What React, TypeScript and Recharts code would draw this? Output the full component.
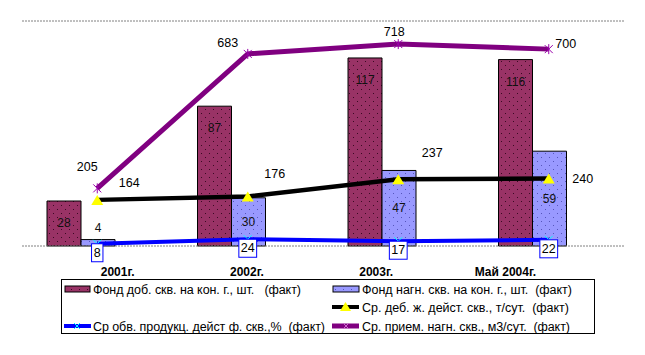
import React from 'react';
import { ComposedChart, Bar, Line, XAxis, YAxis, ReferenceLine, LabelList } from 'recharts';

const categories = ['2001г.', '2002г.', '2003г.', 'Май 2004г.'];
const fondDob = [28, 87, 117, 116];
const fondNagn = [4, 30, 47, 59];
const debit = [164, 176, 237, 240];
const obvod = [8, 24, 17, 22];
const priem = [205, 683, 718, 700];
const leftTicks = [0, 20, 40, 60, 80, 100, 120, 140];
const rightTicks = [0, 100, 200, 300, 400, 500, 600, 700, 800];

const seriesNames = {
  dob: 'Фонд доб. скв. на кон. г., шт.   (факт)',
  nagn: 'Фонд нагн. скв. на кон. г., шт.  (факт)',
  deb: 'Ср. деб. ж. дейст. скв., т/сут.  (факт)',
  obv: 'Ср обв. продукц. дейст ф. скв.,%  (факт)',
  priem: 'Ср. прием. нагн. скв., м3/сут.  (факт)',
};

const data = categories.map((c, i) => ({
  cat: c,
  dob: fondDob[i],
  nagn: fondNagn[i],
  deb: debit[i],
  obv: obvod[i],
  priem: priem[i],
}));

const FONT = '"Liberation Sans", Arial, sans-serif';

// label placement offsets relative to the point (style only)
const priemLabelOffsets = [[-10, -21], [-20, -11], [-4, -12], [17, -5]];
const debLabelOffsets = [[32, -17], [27, -23], [34, -26], [34, 0]];

const Triangle = (p: any) => {
  const { cx, cy, index } = p;
  if (cx == null || cy == null) return <g key={`t${index}`} />;
  return <polygon key={`t${index}`} points={`${cx},${cy - 5} ${cx + 6},${cy + 5} ${cx - 6},${cy + 5}`} fill="#FFFF00" />;
};
const CrossDot = (p: any) => {
  const { cx, cy, index } = p;
  if (cx == null || cy == null) return <g key={`c${index}`} />;
  return (
    <g key={`c${index}`} stroke="#00FFFF" strokeWidth={1}>
      <line x1={cx - 4} y1={cy - 4} x2={cx + 4} y2={cy + 4} />
      <line x1={cx - 4} y1={cy + 4} x2={cx + 4} y2={cy - 4} />
    </g>
  );
};
const StarDot = (p: any) => {
  const { cx, cy, index } = p;
  if (cx == null || cy == null) return <g key={`s${index}`} />;
  return (
    <g key={`s${index}`} stroke="#9900AA" strokeWidth={1}>
      <line x1={cx - 4} y1={cy - 4} x2={cx + 4} y2={cy + 4} />
      <line x1={cx - 4} y1={cy + 4} x2={cx + 4} y2={cy - 4} />
      <line x1={cx} y1={cy - 5} x2={cx} y2={cy + 5} />
    </g>
  );
};

const EmptyTick = () => <g />;

const XTick = (p: any) => {
  const { x, y, payload } = p;
  return (
    <text x={x} y={y} dy={30} textAnchor="middle" fontFamily={FONT} fontSize={12} fontWeight="bold" fill="#000">
      {payload.value}
    </text>
  );
};

const DobLabel = (p: any) => {
  const { x, y, width, value } = p;
  return (
    <text x={x + width / 2} y={y + 26} textAnchor="middle" fontFamily={FONT} fontSize={12} fill="#111">
      {value}
    </text>
  );
};
const NagnLabel = (p: any) => {
  const { x, y, width, height, value } = p;
  const small = height < 15;
  const ty = small ? y - 8 : y + height / 2 + 4;
  return (
    <text x={x + width / 2} y={ty} textAnchor="middle" fontFamily={FONT} fontSize={12} fill="#111">
      {value}
    </text>
  );
};
const makeOffsetLabel = (offs: number[][]) => (p: any) => {
  const { x, y, value, index } = p;
  const o = offs[index] || [0, 0];
  return (
    <text x={x + o[0]} y={y + o[1] + 4} textAnchor="middle" fontFamily={FONT} fontSize={12.5} fill="#000">
      {value}
    </text>
  );
};
const ObvLabel = (p: any) => {
  const { x, y, value } = p;
  const w = String(value).length * 6.4 + 5;
  const cy = y + 9;
  return (
    <g>
      <rect x={x - w / 2} y={cy - 9} width={w} height={18} fill="#FFFFFF" stroke="#0000FF" strokeWidth={1} />
      <text x={x} y={cy + 4} textAnchor="middle" fontFamily={FONT} fontSize={12.5} fill="#000">
        {value}
      </text>
    </g>
  );
};

const Patterns = () => (
  <defs>
    <pattern id="patDob" width="8" height="8" patternUnits="userSpaceOnUse">
      <rect width="8" height="8" fill="#993366" />
      <rect x="1" y="1" width="1" height="1" fill="#3a0a22" />
      <rect x="5" y="5" width="1" height="1" fill="#3a0a22" />
    </pattern>
    <pattern id="patNagn" width="8" height="8" patternUnits="userSpaceOnUse">
      <rect width="8" height="8" fill="#9999FF" />
      <rect x="1" y="1" width="1" height="1" fill="#5555bb" />
      <rect x="5" y="5" width="1" height="1" fill="#5555bb" />
    </pattern>
  </defs>
);

const LegendBox = () => {
  const t = (x: number, y: number, s: string, len: number) => (
    <text
      x={x}
      y={y}
      fontFamily={FONT}
      fontSize={12.5}
      fill="#000"
      style={{ whiteSpace: 'pre' }}
      xmlSpace="preserve"
      textLength={len}
      lengthAdjust="spacing"
    >
      {s}
    </text>
  );
  return (
    <div style={{ position: 'absolute', left: 53, top: 271, width: 534, height: 55, border: '1px solid #000', boxSizing: 'border-box', background: '#fff' }}>
      <svg width={532} height={53} style={{ display: 'block' }}>
        <Patterns />
        {/* row 1 */}
        <rect x={3} y={6} width={25} height={6} fill="url(#patDob)" stroke="#000" />
        {t(31, 14, seriesNames.dob, 208)}
        <rect x={271} y={6} width={26} height={6} fill="url(#patNagn)" stroke="#000" />
        {t(300, 14, seriesNames.nagn, 210)}
        {/* row 2 */}
        <line x1={270} y1={27} x2={297} y2={27} stroke="#000" strokeWidth={4} />
        <polygon points="283.5,22 289,31 278,31" fill="#FFFF00" />
        {t(300, 32, seriesNames.deb, 207)}
        {/* row 3 */}
        <line x1={2} y1={46} x2={29} y2={46} stroke="#0000FF" strokeWidth={4} />
        <g stroke="#00FFFF"><line x1={12} y1={43} x2={18} y2={49} /><line x1={12} y1={49} x2={18} y2={43} /></g>
        {t(31, 51, seriesNames.obv, 232)}
        <line x1={270} y1={46} x2={297} y2={46} stroke="#800080" strokeWidth={5} />
        <g stroke="#cc66cc"><line x1={281} y1={43} x2={287} y2={49} /><line x1={281} y1={49} x2={287} y2={43} /></g>
        {t(300, 51, seriesNames.priem, 208)}
      </svg>
    </div>
  );
};

export default function App() {
  return (
    <div style={{ position: 'relative', width: 629, height: 339 }}>
      <ComposedChart
        width={629}
        height={339}
        data={data}
        margin={{ top: 13, right: 13, left: 14, bottom: 71 }}
        barCategoryGap={25}
        barGap={0}
      >
        <Patterns />
        <XAxis xAxisId="m" dataKey="cat" hide />
        <XAxis
          xAxisId="lab"
          dataKey="cat"
          axisLine={false}
          tickLine={false}
          tickSize={0}
          tickMargin={0}
          height={30}
          interval={0}
          padding={{ left: 31, right: 54 }}
          tick={<XTick />}
        />
        <YAxis
          yAxisId="L"
          orientation="left"
          domain={[0, 140]}
          ticks={leftTicks}
          width={0}
          tickSize={3}
          tick={EmptyTick}
          axisLine={{ stroke: '#000' }}
          tickLine={{ stroke: '#000' }}
          interval={0}
        />
        <YAxis
          yAxisId="R"
          orientation="right"
          domain={[0, 800]}
          ticks={rightTicks}
          width={0}
          tickSize={3}
          tick={EmptyTick}
          axisLine={{ stroke: '#000' }}
          tickLine={{ stroke: '#000' }}
          interval={0}
        />
        <ReferenceLine xAxisId="m" yAxisId="L" y={140} stroke="#808080" strokeDasharray="2 1" />
        <ReferenceLine xAxisId="m" yAxisId="L" y={0} stroke="#808080" strokeDasharray="2 1" />
        <Bar xAxisId="m" yAxisId="L" dataKey="dob" name={seriesNames.dob} fill="url(#patDob)" stroke="#000" strokeWidth={1} isAnimationActive={false}>
          <LabelList dataKey="dob" content={DobLabel} />
        </Bar>
        <Bar xAxisId="m" yAxisId="L" dataKey="nagn" name={seriesNames.nagn} fill="url(#patNagn)" stroke="#000" strokeWidth={1} isAnimationActive={false}>
          <LabelList dataKey="nagn" content={NagnLabel} />
        </Bar>
        <Bar xAxisId="m" yAxisId="L" dataKey="pad" fill="none" isAnimationActive={false} />
        <Line xAxisId="m" yAxisId="R" type="linear" dataKey="obv" name={seriesNames.obv} stroke="#0000FF" strokeWidth={4} dot={CrossDot} activeDot={false} isAnimationActive={false}>
          <LabelList dataKey="obv" content={ObvLabel} />
        </Line>
        <Line xAxisId="m" yAxisId="R" type="linear" dataKey="deb" name={seriesNames.deb} stroke="#000000" strokeWidth={4.5} dot={Triangle} activeDot={false} isAnimationActive={false}>
          <LabelList dataKey="deb" content={makeOffsetLabel(debLabelOffsets)} />
        </Line>
        <Line xAxisId="m" yAxisId="R" type="linear" dataKey="priem" name={seriesNames.priem} stroke="#800080" strokeWidth={5} dot={StarDot} activeDot={false} isAnimationActive={false}>
          <LabelList dataKey="priem" content={makeOffsetLabel(priemLabelOffsets)} />
        </Line>
      </ComposedChart>
      <LegendBox />
    </div>
  );
}
